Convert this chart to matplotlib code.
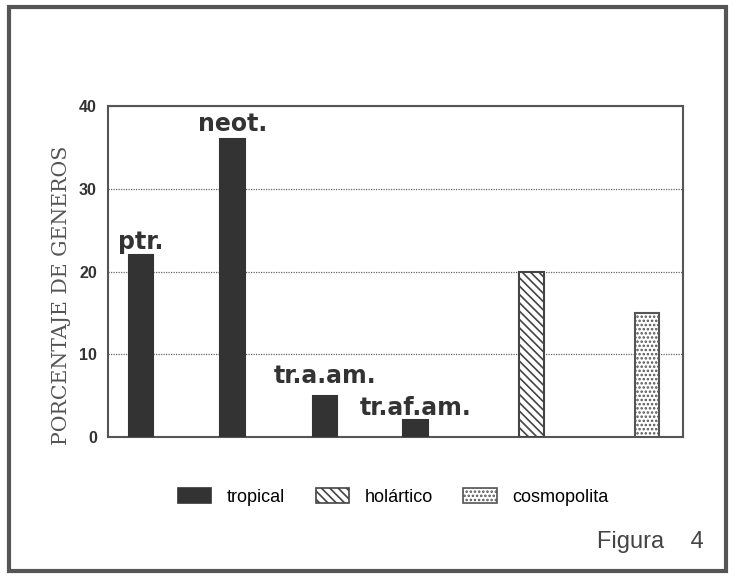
import matplotlib
matplotlib.use("agg")
import matplotlib.pyplot as plt
from matplotlib.patches import Rectangle, Patch

# data
labels = ["ptr.", "neot.", "tr.a.am.", "tr.af.am.", "", ""]
values = [22, 36, 5, 2, 20, 15]
groups = ["tropical", "tropical", "tropical", "tropical", "holártico", "cosmopolita"]
positions = [1, 2, 3.01, 4, 5.27, 6.53]
label_gap = [0.1, 0.4, 0.9, 0.0]

styles = {
    "tropical": dict(facecolor="#333333", edgecolor="#333333", hatch=None),
    "holártico": dict(facecolor="white", edgecolor="#444444", hatch="\\\\\\\\"),
    "cosmopolita": dict(facecolor="white", edgecolor="#555555", hatch="...."),
}

plt.rcParams["hatch.linewidth"] = 1.2

fig = plt.figure(figsize=(7.35, 5.77), dpi=100)
ax = fig.add_axes([0.147, 0.2426, 0.782, 0.5736])

for x, v, g in zip(positions, values, groups):
    st = styles[g]
    ax.bar(x, v, width=0.27, facecolor=st["facecolor"], edgecolor=st["edgecolor"],
           hatch=st["hatch"], linewidth=1.5, zorder=3)

for x, v, lab, gap in zip(positions, values, labels, label_gap):
    ax.text(x, v + gap, lab, ha="center", va="bottom", fontsize=17,
            fontweight="bold", family="DejaVu Sans", color="#333333", zorder=4)

ax.set_xlim(0.64, 6.92)
ax.set_ylim(0, 40)
ax.set_yticks([0, 10, 20, 30, 40])
ax.set_yticklabels(["0", "10", "20", "30", "40"], fontsize=11.5, fontweight="bold",
                   family="Liberation Sans", color="#333333")
ax.set_xticks([])
ax.tick_params(axis="y", length=0, pad=8)
ax.yaxis.grid(True, linestyle=(0, (1, 1)), color="#666666", linewidth=0.9, zorder=0)
for sp in ax.spines.values():
    sp.set_color("#555555")
    sp.set_linewidth(1.5)

fig.text(0.084, 0.489, "PORCENTAJE DE GENEROS", rotation=90, ha="center", va="center",
         fontsize=14.8, family="DejaVu Serif", color="#555555")

handles = [Patch(facecolor=styles[k]["facecolor"], edgecolor=styles[k]["edgecolor"],
                 hatch=styles[k]["hatch"], linewidth=1.2)
           for k in ["tropical", "holártico", "cosmopolita"]]
fig.legend(handles, ["tropical", "holártico", "cosmopolita"], loc="center",
           bbox_to_anchor=(0.535, 0.139), ncol=3, frameon=False,
           handlelength=1.85, handleheight=0.9, columnspacing=1.7, handletextpad=0.85,
           prop={"family": "Liberation Sans", "size": 13})

fig.text(0.812, 0.06, "Figura    4", fontsize=17, family="Liberation Sans",
         color="#444444", ha="left", va="center")

fig.patches.append(Rectangle((0.012, 0.01), 0.976, 0.978, transform=fig.transFigure,
                             fill=False, edgecolor="#555555", linewidth=3))

fig.savefig("out.png", dpi=100)
